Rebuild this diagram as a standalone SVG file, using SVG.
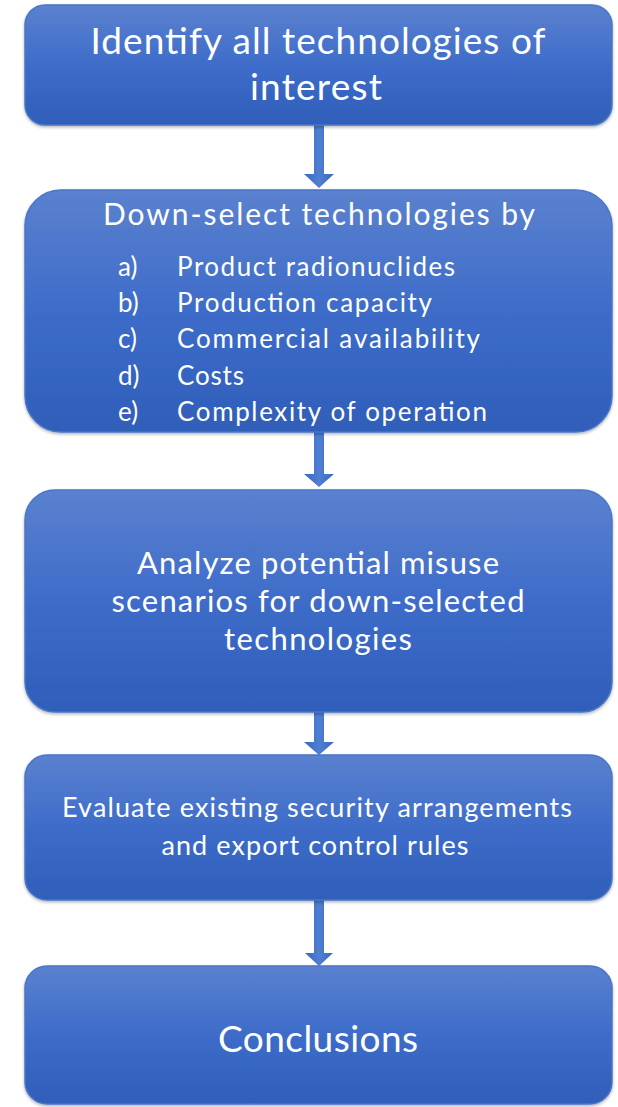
<svg xmlns="http://www.w3.org/2000/svg" width="618" height="1107" viewBox="0 0 618 1107">
<defs>
<linearGradient id="bg" x1="0" y1="0" x2="0" y2="1">
<stop offset="0" stop-color="#5b81cf"/>
<stop offset="0.5" stop-color="#3d6cc9"/>
<stop offset="1" stop-color="#2f5eb9"/>
</linearGradient>
<linearGradient id="ag" x1="0" y1="0" x2="1" y2="0">
<stop offset="0" stop-color="#3a68c4"/>
<stop offset="0.5" stop-color="#4f7ed2"/>
<stop offset="1" stop-color="#3a68c4"/>
</linearGradient>
<filter id="sh" x="-5%" y="-5%" width="110%" height="115%">
<feDropShadow dx="0" dy="1.5" stdDeviation="1.5" flood-color="#000" flood-opacity="0.3"/>
</filter>
</defs>
<style>
.box{fill:url(#bg);stroke:#4a76c9;stroke-width:1.5;filter:url(#sh)}
.t{font-family:Lato,"Open Sans","Liberation Sans",sans-serif;fill:#fff}
.c{text-anchor:middle}
.arr{fill:url(#ag)}
</style>
<g id="connectors">
<path class="arr" d="M314,125 H324 V174 H334 L319,188 L304,174 H314 Z"/>
<path class="arr" d="M314,432 H324 V474 H334 L319,487 L304,474 H314 Z"/>
<path class="arr" d="M314,712 H324 V742 H334 L319,755 L304,742 H314 Z"/>
<path class="arr" d="M314,900 H324 V953 H333 L319,966 L305,953 H314 Z"/>
</g>
<g id="n1">
<rect class="box" x="25" y="5" width="587" height="120" rx="20"/>
<text class="t c" x="318" y="54" font-size="37" textLength="455" lengthAdjust="spacing">Identify all technologies of</text>
<text class="t c" x="316" y="100" font-size="37" textLength="132" lengthAdjust="spacing">interest</text>
</g>
<g id="n2">
<rect class="box" x="25" y="190" width="587" height="242" rx="36"/>
<text class="t c" x="319" y="225" font-size="30" textLength="432" lengthAdjust="spacing">Down-select technologies by</text>
<g class="t" font-size="26">
<text x="118" y="276">a)</text><text x="177" y="276" textLength="278" lengthAdjust="spacing">Product radionuclides</text>
<text x="118" y="312">b)</text><text x="177" y="312" textLength="255" lengthAdjust="spacing">Production capacity</text>
<text x="118" y="348">c)</text><text x="177" y="348" textLength="303" lengthAdjust="spacing">Commercial availability</text>
<text x="118" y="385">d)</text><text x="177" y="385" textLength="67" lengthAdjust="spacing">Costs</text>
<text x="118" y="421">e)</text><text x="177" y="421" textLength="310" lengthAdjust="spacing">Complexity of operation</text>
</g>
</g>
<g id="n3">
<rect class="box" x="25" y="490" width="587" height="222" rx="30"/>
<text class="t c" x="318" y="574" font-size="31" textLength="362" lengthAdjust="spacing">Analyze potential misuse</text>
<text class="t c" x="318" y="612" font-size="31" textLength="413" lengthAdjust="spacing">scenarios for down-selected</text>
<text class="t c" x="318" y="650" font-size="31" textLength="188" lengthAdjust="spacing">technologies</text>
</g>
<g id="n4">
<rect class="box" x="25" y="755" width="587" height="145" rx="22"/>
<text class="t c" x="317" y="817" font-size="27" textLength="510" lengthAdjust="spacing">Evaluate existing security arrangements</text>
<text class="t c" x="315" y="855" font-size="27" textLength="307" lengthAdjust="spacing">and export control rules</text>
</g>
<g id="n5">
<rect class="box" x="25" y="966" width="587" height="138" rx="22"/>
<text class="t c" x="318" y="1052" font-size="37" textLength="200" lengthAdjust="spacing">Conclusions</text>
</g>
</svg>
